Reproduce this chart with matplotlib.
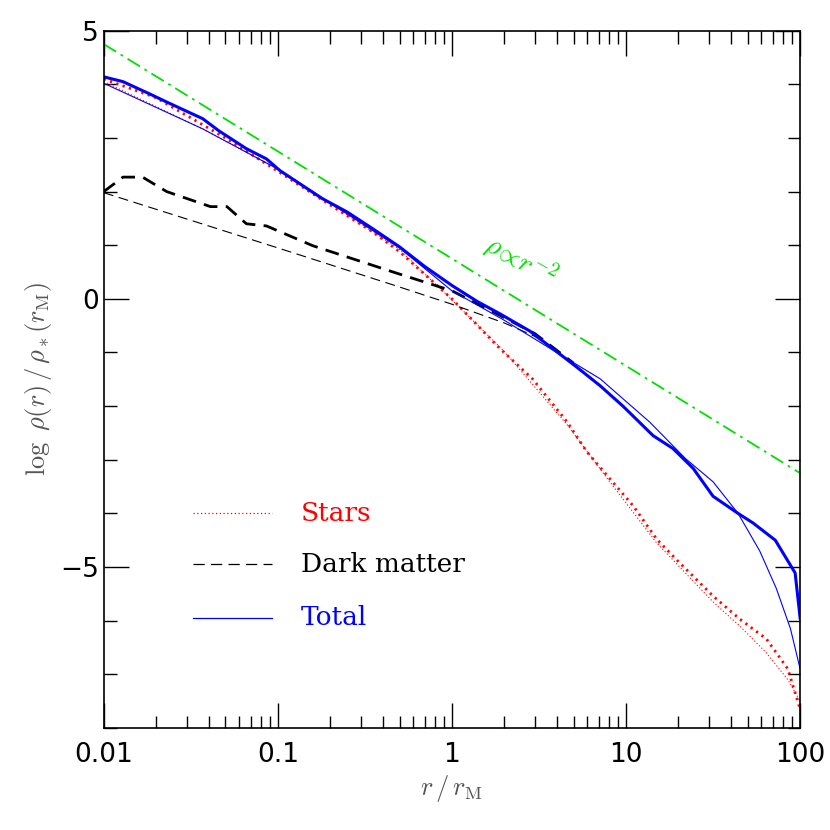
import matplotlib.pyplot as plt
import numpy as np
from matplotlib.ticker import FixedLocator, NullFormatter

plt.rcParams["mathtext.fontset"] = "cm"

# total (simulation, thick) and model (thin)
tot_x = [0.01, 0.0129, 0.0184, 0.023, 0.037, 0.046, 0.066, 0.086, 0.103, 0.18, 0.25, 0.35, 0.5,
         0.7, 1.0, 1.4, 1.89, 2.8, 3.8, 5.2, 7.1, 9.6, 14.3, 18.6, 24.3, 31.6, 44, 53.7, 72, 93.6, 100]
tot_y = [4.14, 4.05, 3.82, 3.67, 3.36, 3.13, 2.8, 2.61, 2.39, 1.87, 1.62, 1.31, 0.97,
         0.6, 0.25, -0.05, -0.28, -0.6, -0.93, -1.27, -1.62, -2.0, -2.55, -2.79, -3.16, -3.68, -4.0, -4.18, -4.5, -5.11, -5.95]
tot_mx = [0.01, 0.037, 0.1, 0.5, 1, 2, 4, 7.1, 13.7, 22, 31.6, 44, 58.6, 73, 88, 100]
tot_my = [4.02, 3.17, 2.42, 0.95, 0.15, -0.4, -1.0, -1.49, -2.3, -2.98, -3.41, -4.0, -4.7, -5.4, -6.15, -6.9]

star_x = [0.01, 0.02, 0.05, 0.1, 0.2, 0.35, 0.5, 1.0, 1.89, 2.9, 4.6, 5.95, 8.1, 11, 15, 20, 31.6, 45, 64, 85, 100]
star_y = [4.1, 3.75, 3.0, 2.38, 1.75, 1.25, 0.88, 0.0, -0.93, -1.49, -2.3, -2.85, -3.36, -3.86, -4.48, -4.9, -5.54, -5.97, -6.34, -6.9, -7.65]
star_mx = [0.01, 0.037, 0.1, 0.5, 1.0, 2.0, 4.6, 8.1, 15, 31.6, 45, 64, 85, 100]
star_my = [4.05, 3.17, 2.42, 0.92, -0.02, -0.98, -2.35, -3.42, -4.55, -5.65, -6.1, -6.6, -7.1, -7.5]

dm_x = [0.01, 0.0129, 0.0167, 0.023, 0.041, 0.051, 0.066, 0.086, 0.159, 0.46, 1.0, 2.0, 3.0, 5.0]
dm_y = [2.0, 2.27, 2.27, 2.0, 1.72, 1.72, 1.4, 1.36, 0.99, 0.5, 0.15, -0.35, -0.65, -1.2]
dm_mx = [0.01, 0.1, 0.48, 1.0, 2.0, 3.0, 5.0]
dm_my = [1.98, 0.95, 0.24, -0.1, -0.45, -0.7, -1.2]

pl_x = [0.01, 100]
pl_y = [4.75, -3.25]

fig = plt.figure(figsize=(8.3, 8.3), dpi=100)
ax = fig.add_axes([0.125, 0.123, 0.839, 0.84])
ax.set_xscale("log")

ax.plot(pl_x, pl_y, color="#00e000", lw=1.3, ls=(0, (8, 3, 1.5, 3)))
ax.plot(star_mx, star_my, color="red", lw=0.8, ls=(0, (1, 2)))
ax.plot(star_x, star_y, color="red", lw=2, ls=(0, (0.8, 1.6)))
ax.plot(dm_mx, dm_my, color="black", lw=0.8, ls=(0, (9, 5)))
ax.plot(dm_x, dm_y, color="black", lw=2, ls=(0, (5, 3)))
ax.plot(tot_mx, tot_my, color="blue", lw=0.8)
ax.plot(tot_x, tot_y, color="blue", lw=2.2)

# legend
for yy, ls, c, lab in [(-4.0, (0, (1, 2)), "red", "Stars"),
                       (-4.95, (0, (9, 5)), "black", "Dark matter"),
                       (-5.95, "-", "blue", "Total")]:
    ax.plot([0.0325, 0.092], [yy, yy], color=c, lw=0.9, ls=ls)
    ax.text(0.135, yy, lab, color=c, fontsize=19, va="center", family="DejaVu Serif")

ax.text(2.5, 0.72, r"$\rho\!\propto\! r^{-2}$", color="#00e000", fontsize=20,
        rotation=-29, ha="center", va="center")

ax.set_xlim(0.01, 100)
ax.set_ylim(-8, 5)
ax.set_xticks([0.01, 0.1, 1, 10, 100])
ax.set_xticklabels(["0.01", "0.1", "1", "10", "100"])
ax.set_yticks([-5, 0, 5])
ax.set_yticklabels(["\u22125", "0", "5"])
ax.yaxis.set_minor_locator(FixedLocator(range(-8, 6)))
ax.tick_params(which="both", direction="in", top=True, right=True, labelsize=19)
ax.tick_params(which="major", length=18, width=1)
ax.tick_params(which="minor", length=9, width=1)
ax.tick_params(axis="x", pad=10)
ax.xaxis.set_minor_formatter(NullFormatter())
for s in ax.spines.values():
    s.set_linewidth(1.2)

ax.set_xlabel(r"$r\,/\,r_{\rm M}$", fontsize=19, color="#555555")
ax.set_ylabel(r"$\log\ \rho(r)\,/\,\rho_*(r_{\rm M})$", fontsize=19, color="#555555")

fig.savefig("out.png", dpi=100)
